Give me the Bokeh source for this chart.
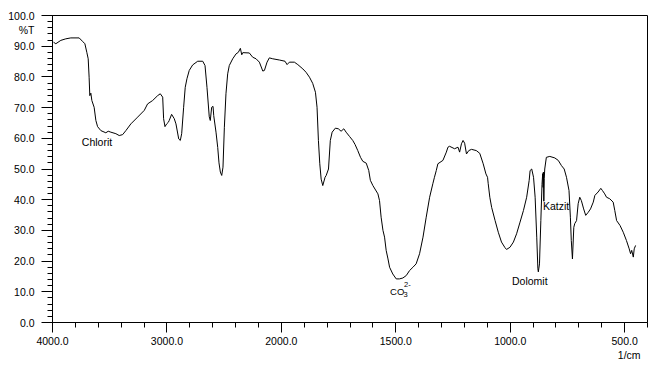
from bokeh.plotting import figure
from bokeh.models import Range1d, FixedTicker, PrintfTickFormatter, Label, LinearAxis
from bokeh.embed import file_html
from bokeh.resources import INLINE

# IR spectrum (wavenumber in 1/cm, transmittance in %T)
wavenumber = [
    3991, 3971, 3927, 3884, 3840, 3767, 3738, 3717, 3700, 3688, 3680, 3674, 3665, 3656,
    3636, 3621, 3606, 3577, 3534, 3513, 3490, 3446, 3417, 3387, 3359, 3315, 3256, 3198,
    3169, 3125, 3081, 3058, 3037, 3029, 3017, 3002, 2988, 2980, 2959, 2936, 2921, 2897,
    2883, 2871, 2854, 2840, 2825, 2805, 2775, 2731, 2687, 2667, 2650, 2630, 2621, 2609,
    2597, 2591, 2571, 2556, 2545, 2533, 2521, 2510, 2498, 2484, 2469, 2455, 2425, 2396,
    2376, 2358, 2346, 2337, 2280, 2250, 2221, 2192, 2162, 2148, 2125, 2105, 2075, 2017,
    1984, 1975, 1965, 1943, 1928, 1906, 1892, 1877, 1863, 1851, 1844, 1838, 1832, 1826,
    1819, 1809, 1804, 1794, 1786, 1778, 1764, 1751, 1739, 1727, 1717, 1702, 1688, 1678,
    1666, 1654, 1644, 1629, 1618, 1611, 1600, 1578, 1571, 1564, 1556, 1549, 1542, 1534,
    1527, 1513, 1498, 1484, 1469, 1454, 1440, 1425, 1411, 1396, 1381, 1367, 1352, 1338,
    1331, 1323, 1316, 1294, 1279, 1272, 1265, 1243, 1228, 1221, 1213, 1206, 1199, 1191,
    1181, 1169, 1148, 1133, 1118, 1106, 1099, 1096, 1089, 1081, 1066, 1052, 1038, 1023,
    1016, 1001, 986, 972, 957, 942, 928, 917, 913, 906, 898, 891, 884, 879, 877, 872,
    866, 861, 858, 856, 855, 853, 851, 849, 842, 827, 805, 790, 776, 764, 754, 743,
    737, 733, 728, 722, 718, 710, 703, 696, 689, 679, 670, 659, 649, 637, 630, 616,
    604, 597, 587, 579, 565, 550, 543, 535, 520, 506, 492, 480, 474, 469, 462, 458, 452,
]
transmittance = [
    91.3, 90.8, 91.9, 92.4, 92.7, 92.7, 91.6, 90.8, 88.0, 85.9, 79.9, 73.9, 74.7, 72.3,
    70.1, 65.8, 63.8, 62.5, 61.8, 62.3, 62.0, 61.5, 60.9, 61.2, 62.5, 64.7, 66.9, 69.1,
    71.2, 72.3, 73.9, 74.5, 73.4, 66.4, 63.8, 64.7, 65.2, 65.8, 67.8, 66.4, 64.7, 59.8,
    59.3, 61.5, 70.1, 76.6, 79.4, 82.1, 83.9, 85.1, 85.1, 83.7, 76.6, 67.0, 65.8, 70.1,
    70.4, 67.4, 62.0, 57.0, 52.0, 49.0, 47.9, 50.6, 63.6, 74.5, 81.0, 83.7, 85.9, 87.5,
    88.0, 89.3, 87.2, 87.9, 87.8, 86.4, 85.9, 84.8, 81.9, 82.1, 84.8, 86.2, 85.9, 85.5,
    85.1, 84.0, 84.8, 84.8, 84.0, 82.6, 81.5, 79.9, 77.9, 75.0, 70.1, 59.3, 51.7, 46.7,
    44.6, 47.3, 47.9, 50.0, 59.3, 62.0, 63.3, 63.1, 62.3, 63.1, 62.0, 60.6, 59.3, 58.0,
    56.0, 53.8, 52.5, 51.9, 49.5, 46.3, 44.6, 41.9, 39.7, 34.3, 30.0, 27.8, 23.5, 20.7,
    18.0, 15.8, 14.2, 14.2, 14.5, 15.3, 16.9, 18.0, 19.1, 22.4, 27.8, 34.3, 40.8, 45.2,
    47.3, 49.5, 51.7, 52.8, 55.5, 57.1, 57.4, 56.6, 57.1, 55.5, 58.2, 59.3, 58.4, 54.9,
    56.0, 56.4, 56.0, 55.1, 51.7, 48.4, 47.3, 45.2, 40.8, 37.5, 33.2, 29.4, 26.2, 24.4,
    23.8, 24.5, 26.2, 28.9, 32.7, 36.5, 40.8, 46.3, 49.5, 50.0, 47.3, 40.8, 27.8, 17.5, 16.5, 19.1,
    33.2, 45.0, 48.5, 44.0, 49.0, 39.5, 47.0, 50.0, 53.8, 54.1, 53.6, 52.8, 51.1, 50.0, 47.3, 43.0,
    34.3, 26.7, 20.7, 31.0, 32.2, 33.2, 38.7, 40.8, 39.7, 37.0, 34.9, 35.9, 37.0, 39.2, 41.4, 42.5,
    43.7, 43.0, 41.9, 40.8, 40.3, 39.2, 36.5, 33.2, 31.6, 29.4, 26.7, 24.0, 22.4, 23.5, 21.3, 24.0, 25.1,
]

x_major_values = [4000, 3000, 2000, 1500, 1000, 500]
x_major_labels = ["4000.0", "3000.0", "2000.0", "1500.0", "1000.0", "500.0"]
x_minor_values = list(range(4000, 1999, -200)) + list(range(1900, 399, -100))
y_major_values = list(range(0, 101, 10))
y_minor_values = list(range(0, 101, 2))

x_unit_label, x_unit_pos = "1/cm", 480
y_unit_label, y_unit_pos = "%T", 95.3

band_labels = ["Chlorit", "Dolomit", "Katzit"]
band_label_wn = [3744, 992, 857]
band_label_t = [58.7, 13.6, 37.9]


def to_u(w):
    # spectrometer scale: wavenumber axis expanded 2x below 2000 1/cm
    return 4000 - w if w >= 2000 else 2000 + 2 * (2000 - w)


FONT = "Liberation Sans"
FS = "10.5px"
W, H = 658, 364

p = figure(width=W, height=H, output_backend="svg", toolbar_location=None,
           x_range=Range1d(to_u(4000), to_u(400)), y_range=Range1d(0, 100),
           min_border_left=52, min_border_right=11, min_border_top=15, min_border_bottom=42)

p.background_fill_color = "white"
p.border_fill_color = "white"
p.outline_line_color = "black"
p.outline_line_alpha = 1.0
p.outline_line_width = 1
p.grid.visible = False

p.line([to_u(w) for w in wavenumber], transmittance, line_color="black", line_width=1)


def style_text(ax):
    ax.major_label_text_font = FONT
    ax.major_label_text_font_size = FS
    ax.major_label_text_color = "black"


def bare(ax):
    ax.axis_line_color = None
    ax.major_tick_line_color = None
    ax.minor_tick_line_color = None
    ax.major_tick_in = 0
    ax.major_tick_out = 0
    ax.minor_tick_in = 0
    ax.minor_tick_out = 0


# x axis (ticks + labels)
xa = p.xaxis[0]
xa.ticker = FixedTicker(ticks=[to_u(v) for v in x_major_values],
                        minor_ticks=[to_u(v) for v in x_minor_values])
xa.major_label_overrides = {to_u(v): lab for v, lab in zip(x_major_values, x_major_labels)}
xa.major_tick_in = 0
xa.major_tick_out = 10
xa.minor_tick_in = 0
xa.minor_tick_out = 5
xa.major_label_standoff = 4
xa.axis_line_color = "black"
xa.major_tick_line_color = "black"
xa.minor_tick_line_color = "black"
style_text(xa)

# unit label under the x tick labels
xu = LinearAxis(ticker=FixedTicker(ticks=[to_u(x_unit_pos)]),
                major_label_overrides={to_u(x_unit_pos): x_unit_label},
                major_label_standoff=1)
bare(xu)
style_text(xu)
p.add_layout(xu, "below")

# y axis: tick marks only (nearest the frame)
ya = p.yaxis[0]
ya.ticker = FixedTicker(ticks=y_major_values, minor_ticks=y_minor_values)
ya.major_label_overrides = {v: "" for v in y_major_values}
ya.major_tick_in = 0
ya.major_tick_out = 11
ya.minor_tick_in = 0
ya.minor_tick_out = 5
ya.major_label_standoff = 0
ya.axis_line_color = "black"
ya.major_tick_line_color = "black"
ya.minor_tick_line_color = "black"
style_text(ya)

# y tick labels and the %T unit label (outer)
yl = LinearAxis(ticker=FixedTicker(ticks=y_major_values + [y_unit_pos]),
                formatter=PrintfTickFormatter(format="%.1f"),
                major_label_overrides={y_unit_pos: y_unit_label},
                major_label_standoff=7)
bare(yl)
style_text(yl)
p.add_layout(yl, "left")


def add_label(x, y, text, size=FS):
    p.add_layout(Label(x=x, y=y, text=text, text_font=FONT, text_font_size=size,
                       text_color="black", text_align="left", text_baseline="middle"))


for lab, w, t in zip(band_labels, band_label_wn, band_label_t):
    add_label(to_u(w), t, lab)

# CO3 2- label
add_label(to_u(1525), 10.1, "CO", size="9.5px")
add_label(to_u(1466), 9.0, "3", size="7.5px")
add_label(to_u(1464), 12.4, "2-", size="7.5px")

open("out.html", "w").write(file_html(p, INLINE))
